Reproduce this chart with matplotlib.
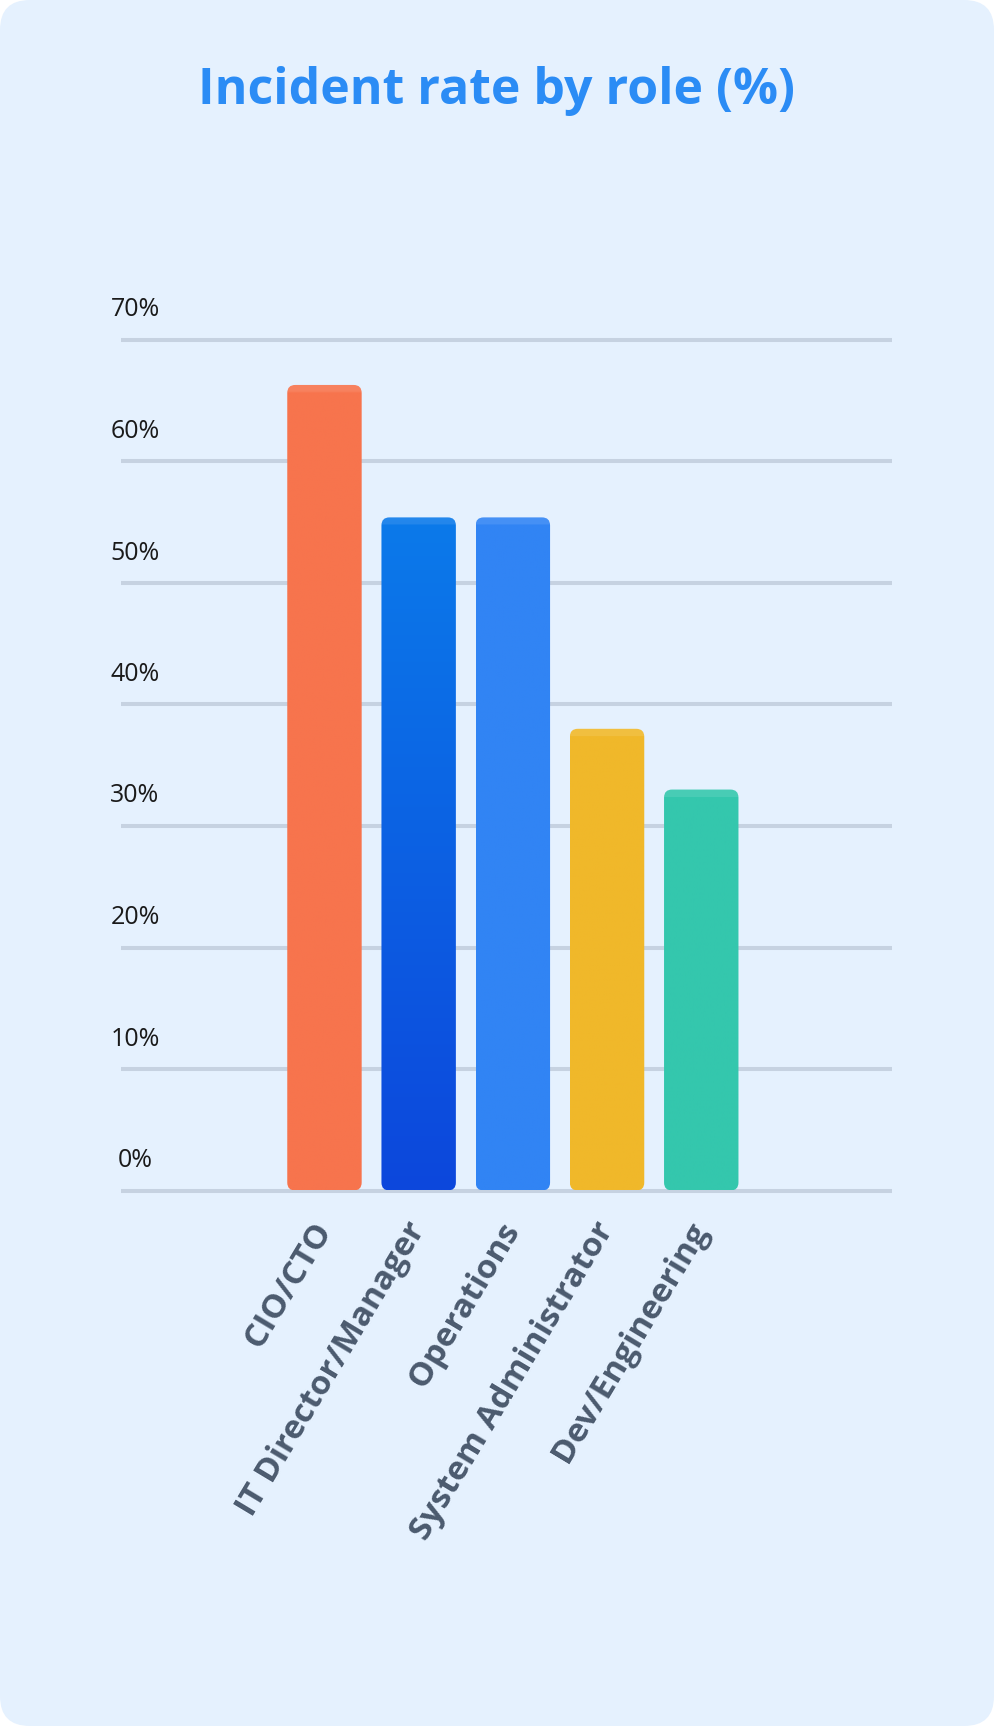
import matplotlib
matplotlib.use('Agg')
import matplotlib.pyplot as plt
import matplotlib.transforms as mtransforms
from matplotlib.patches import FancyBboxPatch
from matplotlib.colors import to_rgb
import numpy as np

plt.rcParams['font.family'] = ['Open Sans', 'DejaVu Sans']

# dados
roles = ['CIO/CTO', 'IT Director/Manager', 'Operations', 'System Administrator', 'Dev/Engineering']
rates = [66.3, 55.4, 55.4, 38, 33]
top_colors = ['#f7744d', '#0b7aea', '#3184f4', '#f0b82a', '#34c7ad']
bottom_colors = ['#f7744d', '#0d47dc', '#3184f4', '#f0b82a', '#34c7ad']
y_ticks = [0, 10, 20, 30, 40, 50, 60, 70]
y_labels = ['0%', '10%', '20%', '30%', '40%', '50%', '60%', '70%']

W, H = 994, 1726
fig = plt.figure(figsize=(W / 100, H / 100), dpi=100)
fig.patch.set_facecolor('white')

# cartão de fundo com cantos arredondados
card = FancyBboxPatch((0, 0), 1, 1, boxstyle='round,pad=0,rounding_size=0.03',
                      mutation_aspect=W / H, transform=fig.transFigure,
                      facecolor='#e5f1fe', edgecolor='none', zorder=-10)
fig.patches.append(card)

ax = fig.add_axes([121 / W, 1 - 1190.5 / H, (892 - 121) / W, (1190.5 - 340) / H])
ax.set_facecolor('none')
ax.set_xlim(-2.16, 6.025)
ax.set_ylim(0, 70)
for s in ax.spines.values():
    s.set_visible(False)
ax.set_yticks([])
ax.tick_params(axis='x', length=0)

# linhas de grade
for v in y_ticks:
    ax.axhline(v, color='#c6d2e1', lw=2.9, zorder=1, clip_on=False, solid_capstyle='butt')

# rótulos do eixo y, centrados e acima de cada linha
trans = mtransforms.blended_transform_factory(fig.transFigure, ax.transData)
trans = trans + mtransforms.ScaledTranslation(0, 30 / 100, fig.dpi_scale_trans)
for v, lab in zip(y_ticks, y_labels):
    ax.text(135 / W, v, lab, transform=trans, ha='center', va='center',
            fontsize=18, color='#1a1a1a')

# barras
x = np.arange(len(roles))
bars = ax.bar(x, rates, width=0.79, color='none', zorder=2)
px_x = (892 - 121) / (6.025 + 2.16)
px_y = (1190.5 - 340) / 70
r = 8 / px_x
asp = (8 / px_y) / r
for rect, c_top, c_bot in zip(bars, top_colors, bottom_colors):
    x0, y0 = rect.get_x(), rect.get_y()
    w, h = rect.get_width(), rect.get_height()
    patch = FancyBboxPatch((x0, y0), w, h, boxstyle=f'round,pad=0,rounding_size={r}',
                           mutation_aspect=asp, facecolor='none', edgecolor='none', zorder=3)
    ax.add_patch(patch)
    n = 400
    t = np.linspace(0, 1, n)[:, None]
    a, b = np.array(to_rgb(c_top)), np.array(to_rgb(c_bot))
    grad = a + (b - a) * t
    # faixa clara no topo
    band = int(n * 9 / (h * px_y))
    grad[:band] = grad[:band] * 0.9 + 0.1
    img = ax.imshow(grad[:, None, :].repeat(2, axis=1), extent=(x0, x0 + w, y0, y0 + h),
                    aspect='auto', zorder=3, interpolation='bilinear', origin='upper')
    img.set_clip_path(patch)
    rect.set_visible(False)

ax.set_xticks(x)
ax.set_xticklabels(roles, rotation=59, ha='right', va='center', rotation_mode='anchor',
                   fontsize=24, fontweight='bold', color='#4b5a6e')
ax.tick_params(axis='x', pad=25)

fig.text(0.5, 1 - 90.5 / H, 'Incident rate by role (%)', ha='center', va='center',
         fontsize=36, fontweight='bold', color='#2b8cf5')

fig.savefig('out.png', dpi=100, facecolor=fig.get_facecolor())
